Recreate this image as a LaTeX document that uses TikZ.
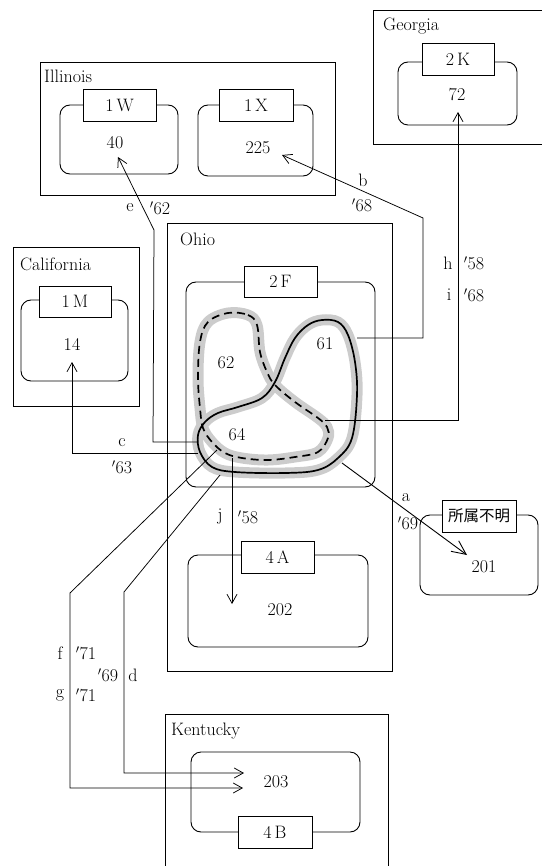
\documentclass[tikz,border=0pt]{standalone}
\usepackage{fontspec}
\newfontfamily\cjk{Noto Sans CJK JP}
\usetikzlibrary{arrows.meta}
\tikzset{
  every node/.style={font=\fontsize{18}{21}\selectfont, inner sep=0pt},
  statebox/.style={draw, line width=0.8pt},
  grpbox/.style={draw, rounded corners=10pt, line width=0.9pt},
  lblbox/.style={draw, fill=white, line width=0.9pt},
  conn/.style={line width=0.75pt},
  arr/.style={conn, -{Straight Barb[length=9pt,width=10pt]}},
  bigarr/.style={conn, line width=0.9pt, -{Straight Barb[length=14pt,width=13pt]}},
  halo/.style={line width=11pt, draw=gray!40},
  loopline/.style={line width=1.7pt},
}
\begin{document}
\begin{tikzpicture}[x=1pt,y=-1pt]
\useasboundingbox (0,0) rectangle (541,866);

% state boxes
\node[statebox, minimum width=295, minimum height=133] (ill) at (187.5,128.5) {};
\draw[statebox] (545,10) -- (373,10) -- (373,144) -- (545,144);
\node[statebox, minimum width=126, minimum height=159] (cal) at (76,326.5) {};
\node[statebox, minimum width=225, minimum height=448] (ohio) at (279.5,447) {};
\draw[statebox] (165,875) -- (165,714) -- (388,714) -- (388,875);

\node[anchor=west] (tIll) at (44,76) {Illinois};
\node[anchor=west] (tGeo) at (383,26) {Georgia};
\node[anchor=west] (tCal) at (20,264) {California};
\node[anchor=west] (tOhio) at (180,239) {Ohio};
\node[anchor=west] (tKen) at (171,731) {Kentucky};

% group boxes
\node[grpbox, minimum width=118, minimum height=69] (g1W) at (119,139.5) {};
\node[grpbox, minimum width=115, minimum height=71] (g1X) at (255.5,140.5) {};
\node[grpbox, minimum width=119, minimum height=63] (g2K) at (457.5,93.5) {};
\node[grpbox, minimum width=107, minimum height=81] (g1M) at (74.5,340.5) {};
\node[grpbox, minimum width=189, minimum height=205] (g2F) at (280.5,384.5) {};
\node[grpbox, minimum width=180, minimum height=92] (g4A) at (278,601) {};
\node[grpbox, minimum width=118, minimum height=80] (gU) at (479,555) {};
\node[grpbox, minimum width=169, minimum height=80] (g4B) at (275.5,792) {};

% halos
\draw[halo] plot[smooth cycle, tension=0.6] coordinates {(228,313) (248,315) (257,325) (260,352) (267,372) (275,385) (295,402) (318,418) (327,427) (328,438) (318,452) (295,457) (268,460) (242,458) (225,453) (212,442) (203,428) (200,408) (198,378) (200,342) (208,322)};
\draw[halo] plot[smooth cycle, tension=0.6] coordinates {(322,320) (338,322) (348,335) (355,362) (357,395) (352,438) (338,458) (318,470) (285,473) (235,472) (212,467) (200,452) (198,435) (205,422) (218,413) (238,407) (262,398) (275,382) (285,358) (295,338) (308,325)};
% loops
\draw[loopline, dash pattern=on 8pt off 5pt] plot[smooth cycle, tension=0.6] coordinates {(228,313) (248,315) (257,325) (260,352) (267,372) (275,385) (295,402) (318,418) (327,427) (328,438) (318,452) (295,457) (268,460) (242,458) (225,453) (212,442) (203,428) (200,408) (198,378) (200,342) (208,322)};
\draw[loopline] plot[smooth cycle, tension=0.6] coordinates {(322,320) (338,322) (348,335) (355,362) (357,395) (352,438) (338,458) (318,470) (285,473) (235,472) (212,467) (200,452) (198,435) (205,422) (218,413) (238,407) (262,398) (275,382) (285,358) (295,338) (308,325)};

% connector ends
\coordinate (sa) at (342,463);
\coordinate (sb) at (357,338);
\coordinate (sh) at (325,420);
\coordinate (sc) at (198,453);
\coordinate (se) at (198,442);
\coordinate (sj) at (232,458);
\coordinate (sf) at (217,450);
\coordinate (sd) at (220,475);

% labels in boxes
\node[lblbox, minimum width=73, minimum height=32] (l1W) at (119.5,105) {1\,W};
\node[lblbox, minimum width=74, minimum height=32] (l1X) at (256,105) {1\,X};
\node[lblbox, minimum width=72, minimum height=32] (l2K) at (458,59) {2\,K};
\node[lblbox, minimum width=72, minimum height=31] (l1M) at (75,301.5) {1\,M};
\node[lblbox, minimum width=73, minimum height=31] (l2F) at (280.5,281.5) {2\,F};
\node[lblbox, minimum width=73, minimum height=32] (l4A) at (277.5,557) {4\,A};
\node[lblbox, minimum width=74, minimum height=32] (lU) at (479,516) {\cjk\fontsize{15.5}{18}\selectfont 所属不明};
\node[lblbox, minimum width=74, minimum height=32] (l4B) at (275,832) {4\,B};

% numbers
\node (n40) at (115,143) {40};
\node (n225) at (258,148) {225};
\node (n72) at (457,95) {72};
\node (n14) at (72,344) {14};
\node (n62) at (226,363) {62};
\node (n61) at (325,344) {61};
\node (n64) at (237,435) {64};
\node (n202) at (280,610) {202};
\node (n201) at (484,567) {201};
\node (n203) at (276,782) {203};

% arrow targets
\coordinate (ta) at (467,555);
\coordinate (tb) at (282,155);
\coordinate (th) at (458,112);
\coordinate (tc) at (72,362);
\coordinate (te) at (118,157);
\coordinate (tj) at (232,604);
\coordinate (tf) at (243,788);
\coordinate (td) at (244,773);

% connectors
\draw[bigarr] (sa) -- (ta);
\draw[arr] (sb) -- (423,338) -- (423,218) -- (tb);
\draw[arr] (sh) -- (458,420) -- (th);
\draw[arr] (sc) -- (72,453) -- (tc);
\draw[arr] (se) -- (153,442) -- (154,230) -- (te);
\draw[arr] (sj) -- (tj);
\draw[arr] (sf) -- (70,593) -- (70,788) -- (tf);
\draw[arr] (sd) -- (124,592) -- (124,773) -- (td);

% connector labels
\node (la) at (406,498) {a};
\node (la2) at (408,523) {$'$69};
\node (lb) at (363,180) {b};
\node (lb2) at (362,205) {$'$68};
\node (lh) at (448,263) {h};
\node (lh2) at (474,263) {$'$58};
\node (li) at (449,295) {i};
\node (li2) at (474,295) {$'$68};
\node (lc) at (122,443) {c};
\node (lc2) at (122,467) {$'$63};
\node (le) at (130,208) {e};
\node (le2) at (160,208) {$'$62};
\node (lj) at (220,517) {j};
\node (lj2) at (248,517) {$'$58};
\node (lf) at (60,653) {f};
\node (lf2) at (86,653) {$'$71};
\node (lg) at (60,695) {g};
\node (lg2) at (86,695) {$'$71};
\node (ld) at (133,675) {d};
\node (ld2) at (108,675) {$'$69};
\end{tikzpicture}
\end{document}
